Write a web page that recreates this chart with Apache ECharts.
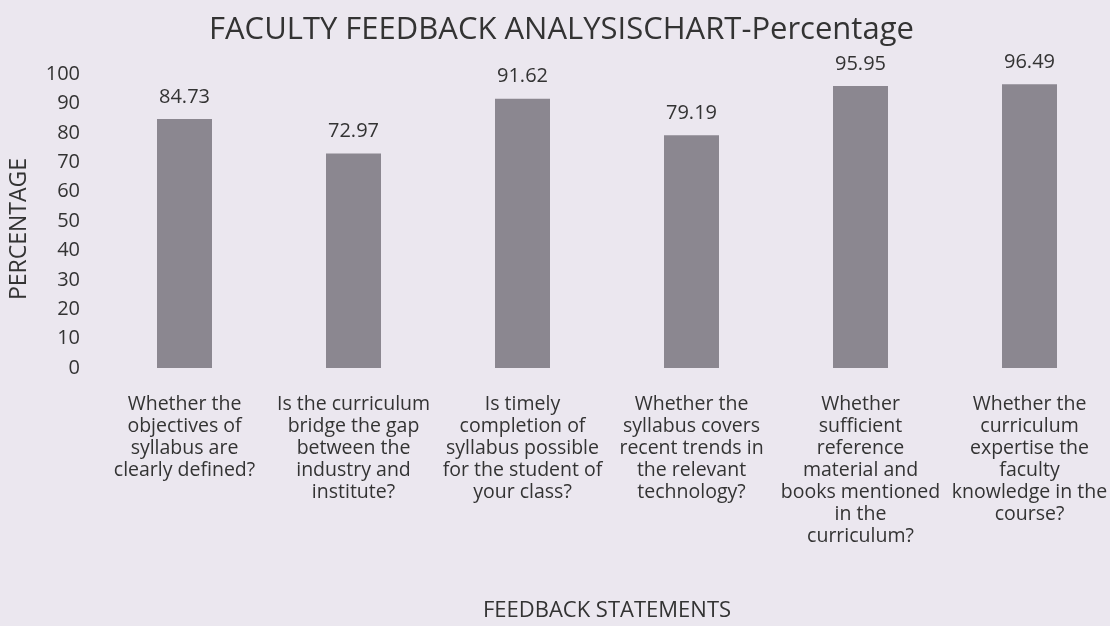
<!DOCTYPE html>
<html>
<head>
  <meta charset="utf-8">
  <title>Faculty Feedback</title>
  <script src="https://cdn.jsdelivr.net/npm/echarts@6/dist/echarts.min.js"></script>
  <style>
    html, body { margin: 0; padding: 0; background: #ebe7ef; }
  </style>
</head>
<body>
  <div id="main" style="width: 1110px;height:626px;"></div>

  <script>
    const statements = [
      "Whether the\nobjectives of\nsyllabus are\nclearly defined?",
      "Is the curriculum\nbridge the gap\nbetween the\nindustry and\ninstitute?",
      "Is timely\ncompletion of\nsyllabus possible\nfor the student of\nyour class?",
      "Whether the\nsyllabus covers\nrecent trends in\nthe relevant\ntechnology?",
      "Whether\nsufficient\nreference\nmaterial and\nbooks mentioned\nin the\ncurriculum?",
      "Whether the\ncurriculum\nexpertise the\nfaculty\nknowledge in the\ncourse?"
    ];
    const percentages = [84.73, 72.97, 91.62, 79.19, 95.95, 96.49];
    const yTicks = [0, 10, 20, 30, 40, 50, 60, 70, 80, 90, 100];

    const font = "'Open Sans', Lato, sans-serif";
    const chart = echarts.init(document.getElementById("main"));
    chart.setOption({
      backgroundColor: "#ebe7ef",
      textStyle: { fontFamily: font },
      title: {
        text: "FACULTY FEEDBACK ANALYSISCHART-Percentage",
        left: 204,
        top: 10,
        textStyle: { fontSize: 31, fontWeight: "normal", color: "#333", fontFamily: font }
      },
      // keep the plot area where it is even though the last label runs to the edge
      grid: { left: 100, top: 74, width: 1014, height: 294, outerBoundsMode: "none" },
      xAxis: {
        type: "category",
        data: statements,
        name: "FEEDBACK STATEMENTS",
        nameLocation: "middle",
        nameGap: 232,
        nameTextStyle: { fontSize: 22, color: "#333" },
        axisLine: { show: false },
        axisTick: { show: false },
        axisLabel: {
          interval: 0,
          margin: 25,
          fontSize: 19.5,
          lineHeight: 22,
          color: "#333"
        }
      },
      yAxis: {
        type: "value",
        min: yTicks[0],
        max: yTicks[yTicks.length - 1],
        interval: 10,
        name: "PERCENTAGE",
        nameLocation: "middle",
        nameGap: 69,
        nameTextStyle: { fontSize: 23, color: "#333", padding: [0, 16, 0, 0] },
        axisLine: { show: false },
        axisTick: { show: false },
        splitLine: { show: false },
        axisLabel: { fontSize: 20, color: "#333", margin: 20 }
      },
      series: [{
        type: "bar",
        data: percentages,
        barWidth: 55,
        itemStyle: { color: "#8b8790" },
        label: {
          show: true,
          position: "top",
          distance: 12,
          fontSize: 20,
          color: "#333"
        }
      }]
    });
  </script>
</body>
</html>
